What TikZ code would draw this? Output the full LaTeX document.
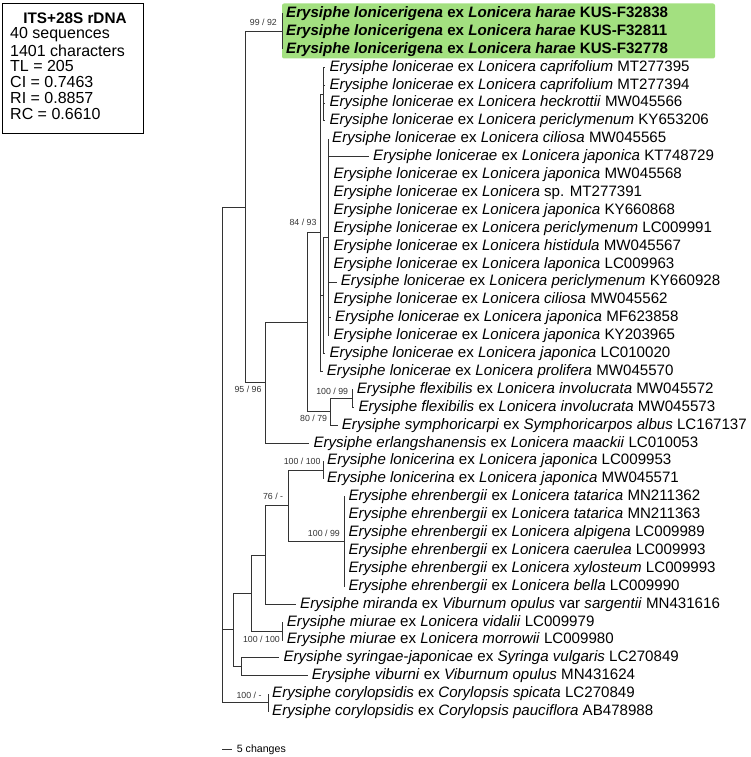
\documentclass[tikz,border=0pt]{standalone}
\usepackage{fontspec}
\setmainfont{Liberation Sans}
\definecolor{hlgreen}{RGB}{163,224,128}
\newcommand\erys[1]{\textit{Erysiphe #1}}
\newcommand\lonic[1]{\textit{Lonicera #1}}
\begin{document}
\begin{tikzpicture}[x=1pt,y=-1pt,
  br/.style={draw=black!80, line width=0.9pt},
  lab/.style={anchor=west, inner xsep=4pt, inner ysep=0pt, font=\fontsize{15.1}{18}\selectfont},
  suplab/.style={anchor=east, inner sep=0pt, font=\fontsize{8.8}{10}\selectfont, text=black!80},
  boxtxt/.style={anchor=west, inner sep=0pt, font=\fontsize{16}{18}\selectfont}]
\useasboundingbox (0,0) rectangle (750,757);

% info box
\node[draw, line width=1.1pt, anchor=north west, minimum width=141pt, minimum height=130pt, inner sep=0pt] (infobox) at (2,3) {};
\node[boxtxt, anchor=center, font=\fontsize{15.3}{18}\selectfont\bfseries] (bt0) at (75,18.3) {ITS+28S rDNA};
\node[boxtxt] (bt1) at (10,34.3) {40 sequences};
\node[boxtxt] (bt2) at (10,50.3) {1401 characters};
\node[boxtxt] (bt3) at (10,66.3) {TL = 205};
\node[boxtxt] (bt4) at (10,82.3) {CI = 0.7463};
\node[boxtxt] (bt5) at (10,98.3) {RI = 0.8857};
\node[boxtxt] (bt6) at (10,114.3) {RC = 0.6610};

% highlight
\fill[hlgreen, rounded corners=2pt] (282,3.5) rectangle (715,58.5);

% tip labels
\node[lab,font=\fontsize{15.1}{18}\selectfont\bfseries] (l0) at (282,13.5) {\erys{lonicerigena} ex \lonic{harae} KUS-F32838};
\node[lab,font=\fontsize{15.1}{18}\selectfont\bfseries] (l1) at (282,31.4) {\erys{lonicerigena} ex \lonic{harae} KUS-F32811};
\node[lab,font=\fontsize{15.1}{18}\selectfont\bfseries] (l2) at (282,49.3) {\erys{lonicerigena} ex \lonic{harae} KUS-F32778};
\node[lab] (l3) at (325.3,67.2) {\erys{lonicerae} ex \lonic{caprifolium} MT277395};
\node[lab] (l4) at (325.3,85.1) {\erys{lonicerae} ex \lonic{caprifolium} MT277394};
\node[lab] (l5) at (325.3,103.0) {\erys{lonicerae} ex \lonic{heckrottii} MW045566};
\node[lab] (l6) at (325.3,120.9) {\erys{lonicerae} ex \lonic{periclymenum} KY653206};
\node[lab] (l7) at (328,138.8) {\erys{lonicerae} ex \lonic{ciliosa} MW045565};
\node[lab] (l8) at (369,156.7) {\erys{lonicerae} ex \lonic{japonica} KT748729};
\node[lab] (l9) at (329.3,174.6) {\erys{lonicerae} ex \lonic{japonica} MW045568};
\node[lab] (l10) at (329.3,192.5) {\erys{lonicerae} ex \textit{Lonicera} sp. MT277391};
\node[lab] (l11) at (329.3,210.4) {\erys{lonicerae} ex \lonic{japonica} KY660868};
\node[lab] (l12) at (329.3,228.3) {\erys{lonicerae} ex \lonic{periclymenum} LC009991};
\node[lab] (l13) at (329.3,246.2) {\erys{lonicerae} ex \lonic{histidula} MW045567};
\node[lab] (l14) at (329.3,264.1) {\erys{lonicerae} ex \lonic{laponica} LC009963};
\node[lab] (l15) at (336.7,282.0) {\erys{lonicerae} ex \lonic{periclymenum} KY660928};
\node[lab] (l16) at (329.3,299.9) {\erys{lonicerae} ex \lonic{ciliosa} MW045562};
\node[lab] (l17) at (331,317.8) {\erys{lonicerae} ex \lonic{japonica} MF623858};
\node[lab] (l18) at (329.3,335.7) {\erys{lonicerae} ex \lonic{japonica} KY203965};
\node[lab] (l19) at (325.3,353.6) {\erys{lonicerae} ex \lonic{japonica} LC010020};
\node[lab] (l20) at (322.7,371.5) {\erys{lonicerae} ex \lonic{prolifera} MW045570};
\node[lab] (l21) at (352.7,389.4) {\erys{flexibilis} ex \lonic{involucrata} MW045572};
\node[lab] (l22) at (354.3,407.3) {\erys{flexibilis} ex \lonic{involucrata} MW045573};
\node[lab] (l23) at (337.7,425.2) {\erys{symphoricarpi} ex \textit{Symphoricarpos albus} LC167137};
\node[lab] (l24) at (309.3,443.1) {\erys{erlangshanensis} ex \lonic{maackii} LC010053};
\node[lab] (l25) at (323,461.0) {\erys{lonicerina} ex \lonic{japonica} LC009953};
\node[lab] (l26) at (323,478.9) {\erys{lonicerina} ex \lonic{japonica} MW045571};
\node[lab] (l27) at (344.3,496.8) {\erys{ehrenbergii} ex \lonic{tatarica} MN211362};
\node[lab] (l28) at (344.3,514.7) {\erys{ehrenbergii} ex \lonic{tatarica} MN211363};
\node[lab] (l29) at (344.3,532.6) {\erys{ehrenbergii} ex \lonic{alpigena} LC009989};
\node[lab] (l30) at (344.3,550.5) {\erys{ehrenbergii} ex \lonic{caerulea} LC009993};
\node[lab] (l31) at (344.3,568.4) {\erys{ehrenbergii} ex \lonic{xylosteum} LC009993};
\node[lab] (l32) at (344.3,586.3) {\erys{ehrenbergii} ex \lonic{bella} LC009990};
\node[lab] (l33) at (296,604.2) {\erys{miranda} ex \textit{Viburnum opulus} var \textit{sargentii} MN431616};
\node[lab] (l34) at (282.7,622.1) {\erys{miurae} ex \lonic{vidalii} LC009979};
\node[lab] (l35) at (282.7,640.0) {\erys{miurae} ex \lonic{morrowii} LC009980};
\node[lab] (l36) at (279.3,657.9) {\erys{syringae-japonicae} ex \textit{Syringa vulgaris} LC270849};
\node[lab] (l37) at (307.7,675.8) {\erys{viburni} ex \textit{Viburnum opulus} MN431624};
\node[lab] (l38) at (268,693.7) {\erys{corylopsidis} ex \textit{Corylopsis spicata} LC270849};
\node[lab] (l39) at (268,711.6) {\erys{corylopsidis} ex \textit{Corylopsis pauciflora} AB478988};

% internal nodes
\coordinate (nLg) at (282,31.4);
\coordinate (nG1) at (323.5,94.05);
\coordinate (nG3) at (328,237.25);
\coordinate (nG2) at (323.5,295.4);
\coordinate (nL) at (320,232.8);
\coordinate (nFx) at (352,398.35);
\coordinate (nF) at (330,411.8);
\coordinate (nQ) at (307,322.3);
\coordinate (nP) at (265,382.7);
\coordinate (nI) at (245,207.05);
\coordinate (nLc) at (323,469.95);
\coordinate (nEh) at (344,541.55);
\coordinate (nN) at (288,505.75);
\coordinate (nM) at (265,554.98);
\coordinate (nMi) at (282,631.05);
\coordinate (nX) at (251.5,593.0);
\coordinate (nY) at (241.7,666.85);
\coordinate (nII) at (233.3,629.9);
\coordinate (nC) at (268,702.65);
\coordinate (nR) at (222,454.85);

% branches
\draw[br] (nR) |- (nI);
\draw[br] (nR) |- (nII);
\draw[br] (nR) |- (nC);
\draw[br] (nI) |- (nLg);
\draw[br] (nI) |- (nP);
\foreach \t in {0,1,2} \draw[br] (nLg) |- (l\t.west);
\draw[br] (nP) |- (nQ);
\draw[br] (nP) |- (l24.west);
\draw[br] (nQ) |- (nL);
\draw[br] (nQ) |- (nF);
\draw[br] (nL) |- (nG1);
\draw[br] (nL) |- (nG2);
\draw[br] (nL) |- (l20.west);
\foreach \t in {3,4,5,6} \draw[br] (nG1) |- (l\t.west);
\draw[br] (nG2) |- (nG3);
\draw[br] (nG2) |- (l19.west);
\foreach \t in {7,...,18} \draw[br] (nG3) |- (l\t.west);
\draw[br] (nF) |- (nFx);
\draw[br] (nF) |- (l23.west);
\foreach \t in {21,22} \draw[br] (nFx) |- (l\t.west);
\draw[br] (nII) |- (nX);
\draw[br] (nII) |- (nY);
\draw[br] (nX) |- (nM);
\draw[br] (nX) |- (nMi);
\draw[br] (nM) |- (nN);
\draw[br] (nM) |- (l33.west);
\draw[br] (nN) |- (nLc);
\draw[br] (nN) |- (nEh);
\foreach \t in {25,26} \draw[br] (nLc) |- (l\t.west);
\foreach \t in {27,...,32} \draw[br] (nEh) |- (l\t.west);
\foreach \t in {34,35} \draw[br] (nMi) |- (l\t.west);
\foreach \t in {36,37} \draw[br] (nY) |- (l\t.west);
\foreach \t in {38,39} \draw[br] (nC) |- (l\t.west);

% support values
\node[suplab] (s1) at (277,22.7) {99 / 92};
\node[suplab] (s2) at (316.7,222.3) {84 / 93};
\node[suplab] (s3) at (261.7,389.3) {95 / 96};
\node[suplab] (s4) at (348.3,391.7) {100 / 99};
\node[suplab] (s5) at (327.3,418.3) {80 / 79};
\node[suplab] (s6) at (320.7,461.7) {100 / 100};
\node[suplab] (s7) at (283.3,496.7) {76 / -};
\node[suplab] (s8) at (340,533.3) {100 / 99};
\node[suplab] (s9) at (280,639.3) {100 / 100};
\node[suplab] (s10) at (261.7,695) {100 / -};

% scale bar
\coordinate (sb1) at (222,749.3);
\coordinate (sb2) at (232,749.3);
\draw[br] (sb1) -- (sb2);
\node[anchor=west, inner sep=0pt, font=\fontsize{10.6}{12}\selectfont] (sbt) at (236.7,749.3) {5 changes};
\end{tikzpicture}
\end{document}
